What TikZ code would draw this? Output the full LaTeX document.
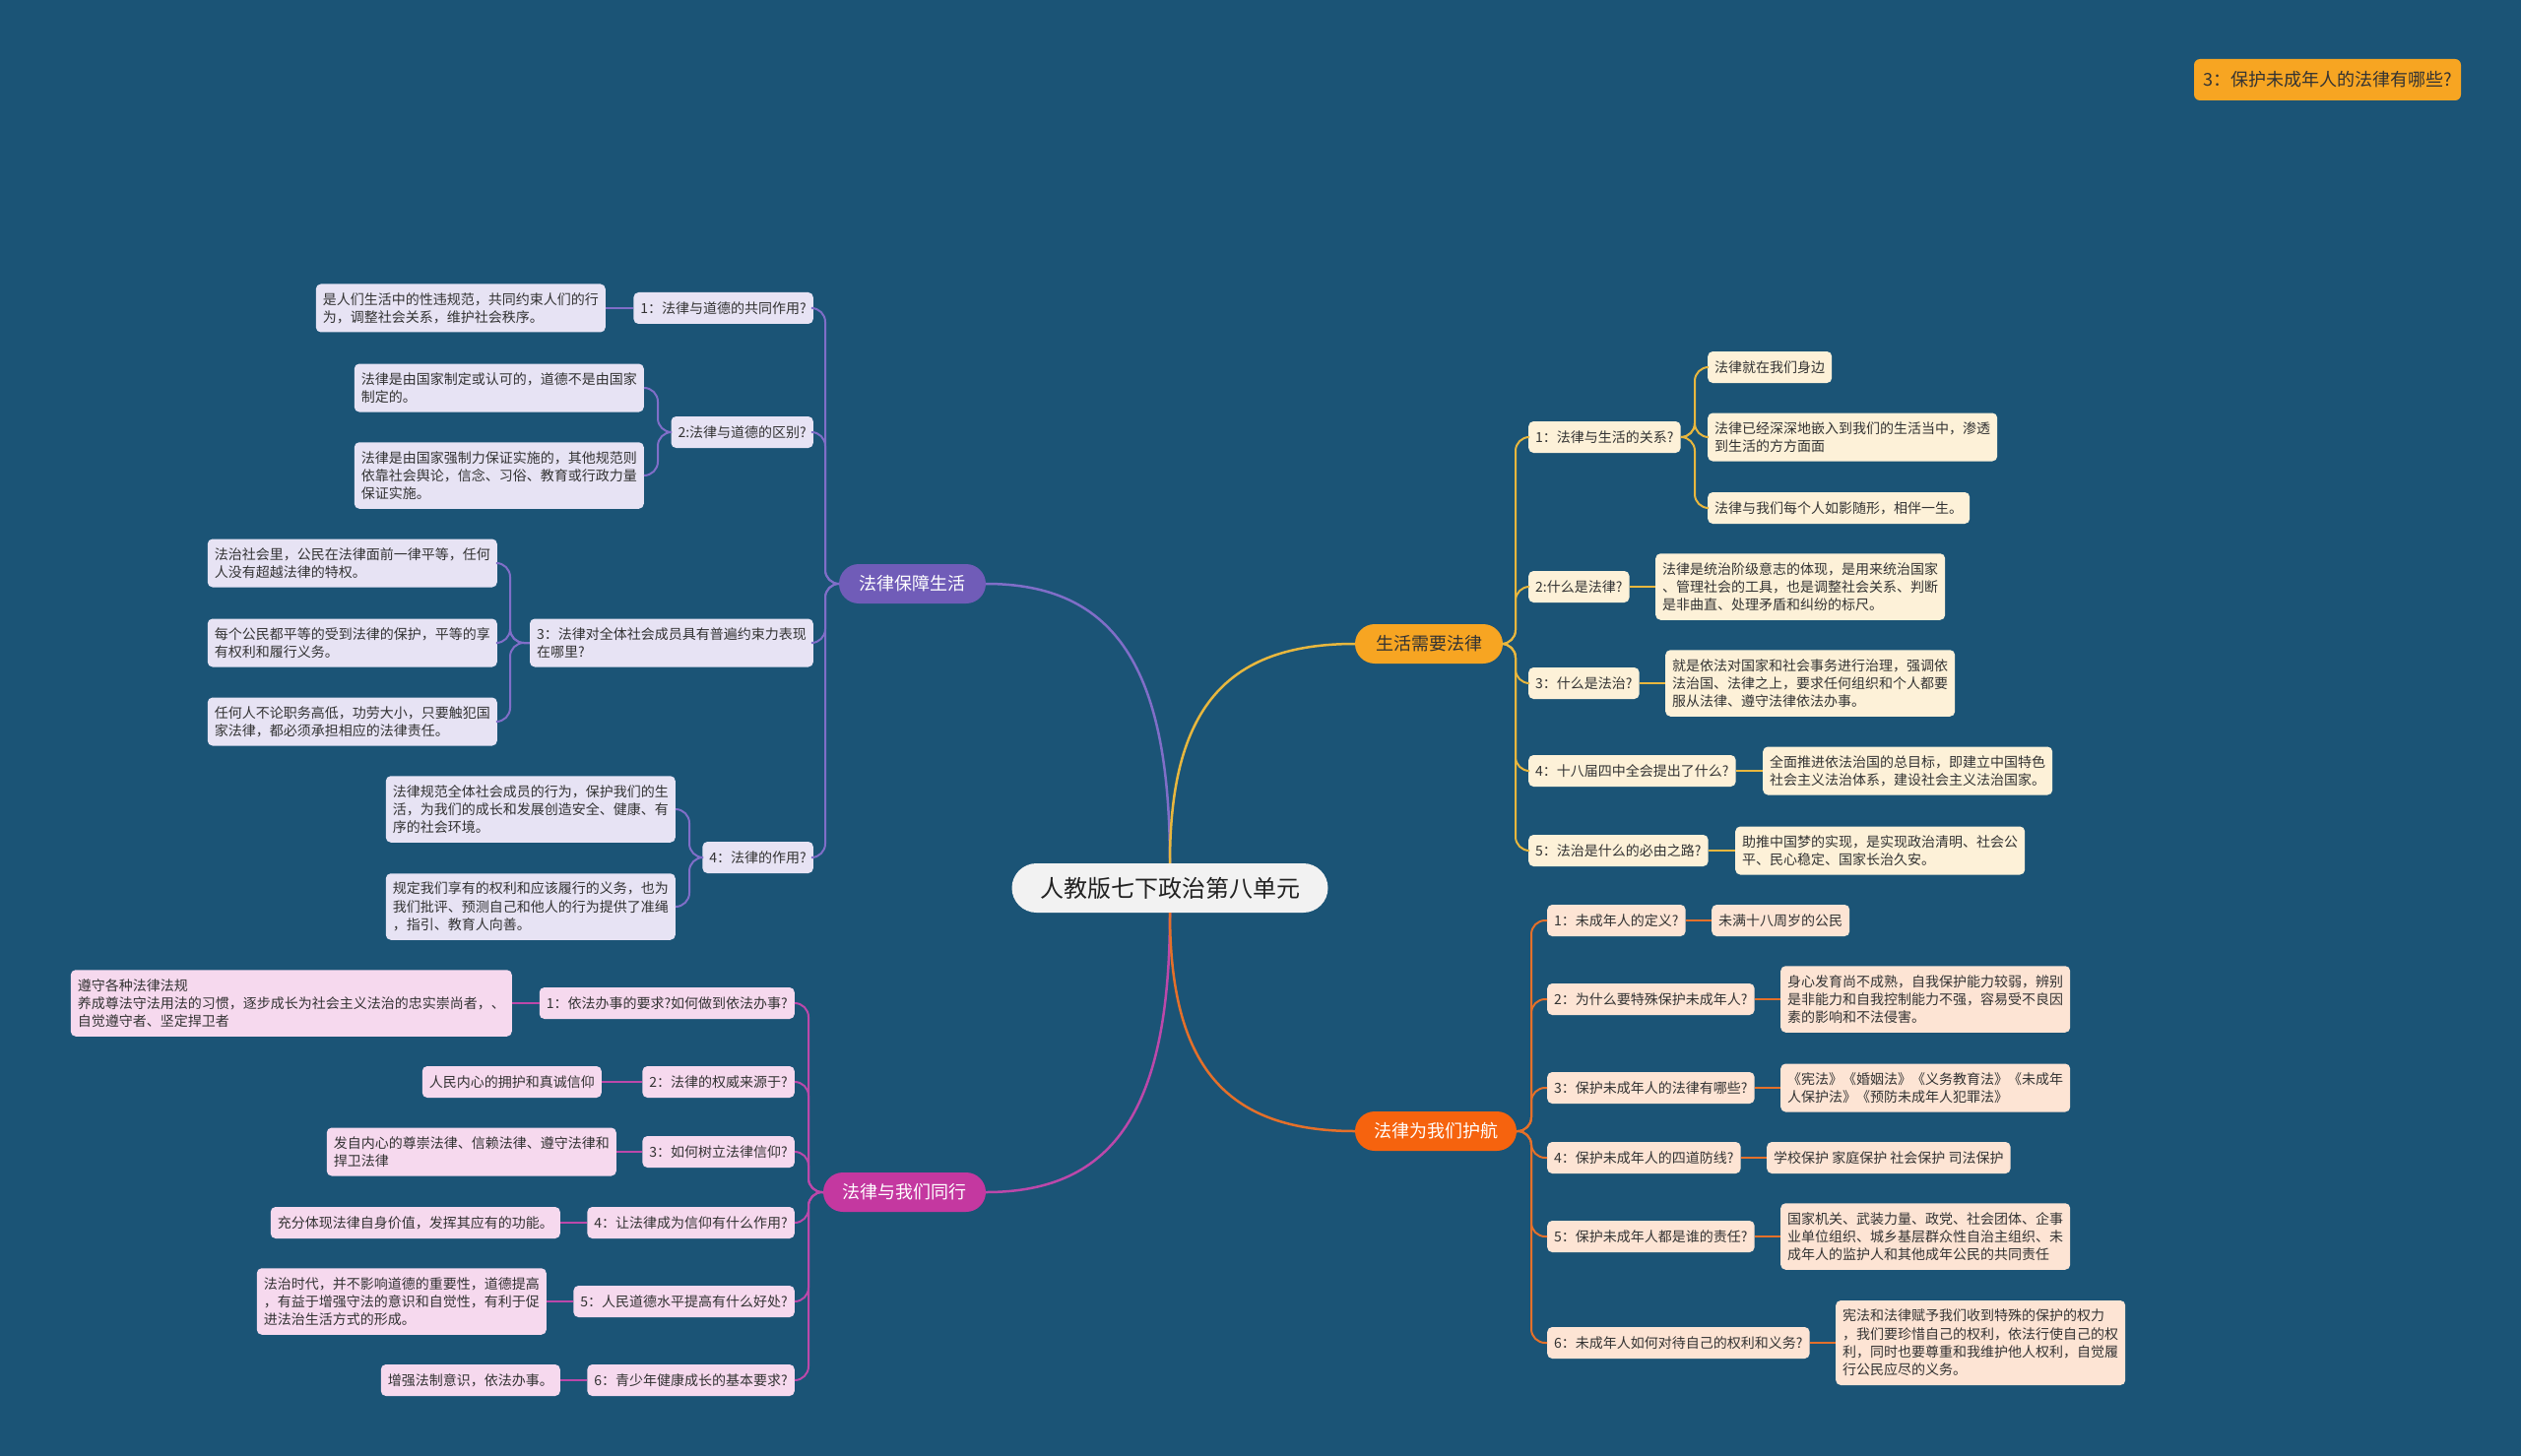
\documentclass[tikz,border=0pt]{standalone}
\usepackage{fontspec}
\newfontfamily\cjk{Noto Sans CJK SC}
\definecolor{bg}{RGB}{27,84,118}
\definecolor{txt}{RGB}{51,51,51}
\definecolor{cP}{RGB}{112,92,184}
\definecolor{lP}{RGB}{128,110,200}
\definecolor{fP}{RGB}{231,227,244}
\definecolor{cG}{RGB}{247,165,34}
\definecolor{lG}{RGB}{232,183,62}
\definecolor{fG}{RGB}{253,241,216}
\definecolor{cM}{RGB}{196,56,160}
\definecolor{lM}{RGB}{188,72,170}
\definecolor{fM}{RGB}{246,217,238}
\definecolor{cO}{RGB}{246,99,14}
\definecolor{lO}{RGB}{228,112,42}
\definecolor{fO}{RGB}{253,228,212}
\tikzset{
  sub/.style={rectangle, rounded corners=5pt, inner xsep=7pt, inner ysep=0pt,
    font=\cjk\fontsize{14pt}{18.3pt}\selectfont, align=left, text=txt},
  oneline/.style={minimum height=32pt},
  twoline/.style={minimum height=49pt},
  threeline/.style={minimum height=67.5pt},
  fourline/.style={minimum height=86pt},
  pbox/.style={sub, fill=fP},
  mbox/.style={sub, fill=fM},
  gbox/.style={sub, fill=fG},
  obox/.style={sub, fill=fO},
  branch/.style={rectangle, rounded corners=20pt, minimum height=40pt, inner xsep=0pt,
    font=\cjk\fontsize{18pt}{22pt}\selectfont},
  mainline/.style={line width=2.5pt},
  subline/.style={line width=2pt, rounded corners=14pt},
}
\begin{document}
\begin{tikzpicture}[x=1pt,y=-1pt]
\fill[bg] (0,0) rectangle (2560,1479);
\useasboundingbox (0,0) rectangle (2560,1479);

% centre and branches
\node[rectangle, rounded corners=25pt, fill={rgb,255:red,242;green,242;blue,242}, minimum width=321pt, minimum height=50pt,
  font=\cjk\fontsize{24pt}{28pt}\selectfont, text={rgb,255:red,34;green,34;blue,34}] (C) at (1188,902) {人教版七下政治第八单元};
\node[branch, fill=cP, text=white, minimum width=149pt] (B1) at (926.5,593) {法律保障生活};
\node[branch, fill=cG, text=txt, minimum width=150pt] (B2) at (1451,654) {生活需要法律};
\node[branch, fill=cM, text=white, minimum width=165pt] (B3) at (918.5,1211) {法律与我们同行};
\node[branch, fill=cO, text=white, minimum width=164pt] (B4) at (1458,1149) {法律为我们护航};

\node[rectangle, rounded corners=6pt, fill=cG, text=txt, minimum width=271pt, minimum height=42pt,
  font=\cjk\fontsize{18pt}{22pt}\selectfont] (T) at (2363.5,81) {3：保护未成年人的法律有哪些?};

\draw[mainline, draw=lP] (C.north) .. controls (1188,678) and (1132,593) .. (B1.east);
\draw[mainline, draw=lG] (C.north) .. controls (1188,721) and (1244,654) .. (B2.west);
\draw[mainline, draw=lM] (C.south) .. controls (1188,1126) and (1132,1211) .. (B3.east);
\draw[mainline, draw=lO] (C.south) .. controls (1188,1082) and (1244,1149) .. (B4.west);

% ---------------- left top (purple)
\node[pbox, oneline, anchor=east] (c1a) at (826,313) {1：法律与道德的共同作用?};
\node[pbox, twoline, anchor=east] (g1a) at (615,313) {是人们生活中的性违规范，共同约束人们的行\\为，调整社会关系，维护社会秩序。};
\node[pbox, oneline, anchor=east] (c1b) at (826,439) {2:法律与道德的区别?};
\node[pbox, twoline, anchor=east] (g1b1) at (654,394) {法律是由国家制定或认可的，道德不是由国家\\制定的。};
\node[pbox, threeline, anchor=east] (g1b2) at (654,483) {法律是由国家强制力保证实施的，其他规范则\\依靠社会舆论，信念、习俗、教育或行政力量\\保证实施。};
\node[pbox, twoline, anchor=east] (c1c) at (826,653) {3：法律对全体社会成员具有普遍约束力表现\\在哪里?};
\node[pbox, twoline, anchor=east] (g1c1) at (505,572) {法治社会里，公民在法律面前一律平等，任何\\人没有超越法律的特权。};
\node[pbox, twoline, anchor=east] (g1c2) at (505,653) {每个公民都平等的受到法律的保护，平等的享\\有权利和履行义务。};
\node[pbox, twoline, anchor=east] (g1c3) at (505,733) {任何人不论职务高低，功劳大小，只要触犯国\\家法律，都必须承担相应的法律责任。};
\node[pbox, oneline, anchor=east] (c1d) at (826,871) {4：法律的作用?};
\node[pbox, threeline, anchor=east] (g1d1) at (686,822) {法律规范全体社会成员的行为，保护我们的生\\活，为我们的成长和发展创造安全、健康、有\\序的社会环境。};
\node[pbox, threeline, anchor=east] (g1d2) at (686,921) {规定我们享有的权利和应该履行的义务，也为\\我们批评、预测自己和他人的行为提供了准绳\\，指引、教育人向善。};

\coordinate (s1) at (838,593);
\coordinate (s1b) at (668,439);
\coordinate (s1c) at (518,653);
\coordinate (s1d) at (700,871);
\begin{scope}[subline, draw=lP]
\foreach \n in {c1a,c1b,c1c,c1d}
  \draw (B1.west) -- (s1 |- B1.west) -- (s1 |- \n.east) -- (\n.east);
\draw (c1a.west) -- (g1a.east);
\foreach \n in {g1b1,g1b2}
  \draw (c1b.west) -- (s1b |- c1b.west) -- (s1b |- \n.east) -- (\n.east);
\foreach \n in {g1c1,g1c2,g1c3}
  \draw (c1c.west) -- (s1c |- c1c.west) -- (s1c |- \n.east) -- (\n.east);
\foreach \n in {g1d1,g1d2}
  \draw (c1d.west) -- (s1d |- c1d.west) -- (s1d |- \n.east) -- (\n.east);
\end{scope}

% ---------------- left bottom (magenta)
\node[mbox, oneline, anchor=east] (c2a) at (807,1019) {1：依法办事的要求?如何做到依法办事?};
\node[mbox, threeline, anchor=east] (g2a) at (520,1019) {遵守各种法律法规\\养成尊法守法用法的习惯，逐步成长为社会主义法治的忠实崇尚者，、\\自觉遵守者、坚定捍卫者};
\node[mbox, oneline, anchor=east] (c2b) at (807,1099) {2：法律的权威来源于?};
\node[mbox, oneline, anchor=east] (g2b) at (611,1099) {人民内心的拥护和真诚信仰};
\node[mbox, oneline, anchor=east] (c2c) at (807,1170) {3：如何树立法律信仰?};
\node[mbox, twoline, anchor=east] (g2c) at (626,1170) {发自内心的尊崇法律、信赖法律、遵守法律和\\捍卫法律};
\node[mbox, oneline, anchor=east] (c2d) at (807,1242) {4：让法律成为信仰有什么作用?};
\node[mbox, oneline, anchor=east] (g2d) at (569,1242) {充分体现法律自身价值，发挥其应有的功能。};
\node[mbox, oneline, anchor=east] (c2e) at (807,1322) {5：人民道德水平提高有什么好处?};
\node[mbox, threeline, anchor=east] (g2e) at (555,1322) {法治时代，并不影响道德的重要性，道德提高\\，有益于增强守法的意识和自觉性，有利于促\\进法治生活方式的形成。};
\node[mbox, oneline, anchor=east] (c2f) at (807,1402) {6：青少年健康成长的基本要求?};
\node[mbox, oneline, anchor=east] (g2f) at (569,1402) {增强法制意识，依法办事。};

\coordinate (s2) at (821,1211);
\begin{scope}[subline, draw=lM]
\foreach \n in {c2a,c2b,c2c,c2d,c2e,c2f}
  \draw (B3.west) -- (s2 |- B3.west) -- (s2 |- \n.east) -- (\n.east);
\draw (c2a.west) -- (g2a.east);
\draw (c2b.west) -- (g2b.east);
\draw (c2c.west) -- (g2c.east);
\draw (c2d.west) -- (g2d.east);
\draw (c2e.west) -- (g2e.east);
\draw (c2f.west) -- (g2f.east);
\end{scope}

% ---------------- right top (gold)
\node[gbox, oneline, anchor=west] (c3a) at (1552,444) {1：法律与生活的关系?};
\node[gbox, oneline, anchor=west] (g3a1) at (1734,373) {法律就在我们身边};
\node[gbox, twoline, anchor=west] (g3a2) at (1734,444) {法律已经深深地嵌入到我们的生活当中，渗透\\到生活的方方面面};
\node[gbox, oneline, anchor=west] (g3a3) at (1734,516) {法律与我们每个人如影随形，相伴一生。};
\node[gbox, oneline, anchor=west] (c3b) at (1552,596) {2:什么是法律?};
\node[gbox, threeline, anchor=west] (g3b) at (1681,596) {法律是统治阶级意志的体现，是用来统治国家\\、管理社会的工具，也是调整社会关系、判断\\是非曲直、处理矛盾和纠纷的标尺。};
\node[gbox, oneline, anchor=west] (c3c) at (1552,694) {3：什么是法治?};
\node[gbox, threeline, anchor=west] (g3c) at (1691,694) {就是依法对国家和社会事务进行治理，强调依\\法治国、法律之上，要求任何组织和个人都要\\服从法律、遵守法律依法办事。};
\node[gbox, oneline, anchor=west] (c3d) at (1552,783) {4：十八届四中全会提出了什么?};
\node[gbox, twoline, anchor=west] (g3d) at (1790,783) {全面推进依法治国的总目标，即建立中国特色\\社会主义法治体系，建设社会主义法治国家。};
\node[gbox, oneline, anchor=west] (c3e) at (1552,864) {5：法治是什么的必由之路?};
\node[gbox, twoline, anchor=west] (g3e) at (1762,864) {助推中国梦的实现，是实现政治清明、社会公\\平、民心稳定、国家长治久安。};

\coordinate (s3) at (1539,654);
\coordinate (s3a) at (1721,444);
\begin{scope}[subline, draw=lG]
\foreach \n in {c3a,c3b,c3c,c3d,c3e}
  \draw (B2.east) -- (s3 |- B2.east) -- (s3 |- \n.west) -- (\n.west);
\foreach \n in {g3a1,g3a2,g3a3}
  \draw (c3a.east) -- (s3a |- c3a.east) -- (s3a |- \n.west) -- (\n.west);
\draw (c3b.east) -- (g3b.west);
\draw (c3c.east) -- (g3c.west);
\draw (c3d.east) -- (g3d.west);
\draw (c3e.east) -- (g3e.west);
\end{scope}

% ---------------- right bottom (orange)
\node[obox, oneline, anchor=west] (c4a) at (1571,935) {1：未成年人的定义?};
\node[obox, oneline, anchor=west] (g4a) at (1738,935) {未满十八周岁的公民};
\node[obox, oneline, anchor=west] (c4b) at (1571,1015) {2：为什么要特殊保护未成年人?};
\node[obox, threeline, anchor=west] (g4b) at (1808,1015) {身心发育尚不成熟，自我保护能力较弱，辨别\\是非能力和自我控制能力不强，容易受不良因\\素的影响和不法侵害。};
\node[obox, oneline, anchor=west] (c4c) at (1571,1105) {3：保护未成年人的法律有哪些?};
\node[obox, twoline, anchor=west] (g4c) at (1808,1105) {《宪法》《婚姻法》《义务教育法》《未成年\\人保护法》《预防未成年人犯罪法》};
\node[obox, oneline, anchor=west] (c4d) at (1571,1176) {4：保护未成年人的四道防线?};
\node[obox, oneline, anchor=west] (g4d) at (1794,1176) {学校保护 家庭保护 社会保护 司法保护};
\node[obox, oneline, anchor=west] (c4e) at (1571,1256) {5：保护未成年人都是谁的责任?};
\node[obox, threeline, anchor=west] (g4e) at (1808,1256) {国家机关、武装力量、政党、社会团体、企事\\业单位组织、城乡基层群众性自治主组织、未\\成年人的监护人和其他成年公民的共同责任};
\node[obox, oneline, anchor=west] (c4f) at (1571,1364) {6：未成年人如何对待自己的权利和义务?};
\node[obox, fourline, anchor=west] (g4f) at (1864,1364) {宪法和法律赋予我们收到特殊的保护的权力\\，我们要珍惜自己的权利，依法行使自己的权\\利，同时也要尊重和我维护他人权利，自觉履\\行公民应尽的义务。};

\coordinate (s4) at (1555,1149);
\begin{scope}[subline, draw=lO]
\foreach \n in {c4a,c4b,c4c,c4d,c4e,c4f}
  \draw (B4.east) -- (s4 |- B4.east) -- (s4 |- \n.west) -- (\n.west);
\draw (c4a.east) -- (g4a.west);
\draw (c4b.east) -- (g4b.west);
\draw (c4c.east) -- (g4c.west);
\draw (c4d.east) -- (g4d.west);
\draw (c4e.east) -- (g4e.west);
\draw (c4f.east) -- (g4f.west);
\end{scope}
\end{tikzpicture}
\end{document}
